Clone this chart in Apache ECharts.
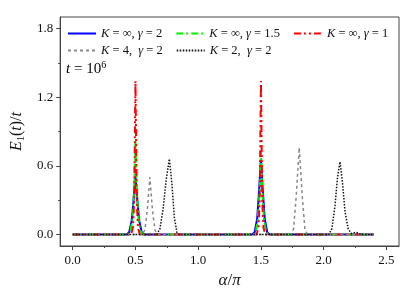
<!DOCTYPE html>
<html><head><meta charset="utf-8">
<script src="https://cdn.jsdelivr.net/npm/echarts@6/dist/echarts.min.js"></script>
<style>html,body{margin:0;padding:0;background:#fff}#c{width:415px;height:294px}</style>
</head><body><div id="c"></div>
<script>
// ---- data ----
const seriesNames = ['Kinf_g2', 'Kinf_g15', 'Kinf_g1', 'K4_g2', 'K2_g2'];
const legendLabels = [
  '{i|K}{n| = ∞, }{i|γ}{n| = 2}',
  '{i|K}{n| = ∞, }{i|γ}{n| = 1.5}',
  '{i|K}{n| = ∞, }{i|γ}{n| = 1}',
  '{i|K}{n| = 4,  }{i|γ}{n| = 2}',
  '{i|K}{n| = 2,  }{i|γ}{n| = 2}'
];
const blueData = [[0,0],[0.43,0],[0.45,0.02],[0.47,0.12],[0.485,0.3],[0.5,0.51],[0.515,0.3],[0.53,0.12],[0.55,0.02],[0.57,0],
  [1.43,0],[1.45,0.02],[1.47,0.14],[1.485,0.38],[1.5,0.66],[1.515,0.38],[1.53,0.14],[1.55,0.02],[1.57,0],[2.4,0]];
const greenData = [[0,0],[0.44,0],[0.46,0.03],[0.475,0.13],[0.49,0.4],[0.5,0.82],[0.51,0.4],[0.525,0.13],[0.54,0.03],[0.56,0],
  [1.44,0],[1.46,0.03],[1.475,0.13],[1.49,0.38],[1.5,0.72],[1.51,0.38],[1.525,0.13],[1.54,0.03],[1.56,0],[2.4,0]];
const redData = [[0,0],[0.465,0],[0.48,0.06],[0.49,0.3],[0.5,1.34],[0.51,0.3],[0.52,0.06],[0.535,0],
  [1.465,0],[1.48,0.06],[1.49,0.3],[1.5,1.34],[1.51,0.3],[1.52,0.06],[1.535,0],[2.4,0]];
const grayData = [[0,0],[0.555,0],[0.575,0.04],[0.595,0.22],[0.615,0.5],[0.635,0.22],[0.655,0.04],[0.675,0],
  [1.74,0],[1.76,0.05],[1.78,0.32],[1.805,0.76],[1.83,0.32],[1.85,0.05],[1.87,0],[2.4,0]];
const blackData = [[0,0],[0.67,0],[0.695,0.05],[0.72,0.22],[0.745,0.48],[0.77,0.66],[0.79,0.45],[0.81,0.15],[0.83,0.02],[0.85,0],
  [2.04,0],[2.065,0.05],[2.09,0.25],[2.11,0.5],[2.13,0.635],[2.15,0.45],[2.17,0.2],[2.195,0.05],[2.22,0.01],[2.26,0.02],[2.3,0],[2.4,0]];
const xMajorTicks = [0, 0.5, 1.0, 1.5, 2.0, 2.5];
const xMinorTicks = [0.25, 0.75, 1.25, 1.75, 2.25];
const yMajorTicks = [0, 0.6, 1.2, 1.8];
const yMinorTicks = [0.3, 0.9, 1.5];

// ---- chart ----
const FONT = '"Liberation Serif", "Times New Roman", serif';
const AX = '#444';
const chart = echarts.init(document.getElementById('c'), null, {renderer: 'canvas'});
const rich = {
  i: {fontFamily: FONT, fontStyle: 'italic', fontSize: 12.5, color: '#111'},
  n: {fontFamily: FONT, fontSize: 12.5, color: '#111'}
};
const labelMap = {};
seriesNames.forEach((n, k) => labelMap[n] = legendLabels[k]);
const xMin = -0.1, xMax = 2.6, yMin = -0.1, yMax = 1.9;
function mkX(ticks, len, showLabel, showLine) {
  return {
    type: 'value', min: xMin, max: xMax, gridIndex: 0, position: 'bottom',
    axisLine: {show: showLine, onZero: false, lineStyle: {color: AX, width: 1}},
    axisTick: {show: true, length: len, customValues: ticks, lineStyle: {color: AX}},
    axisLabel: {show: showLabel, customValues: ticks, formatter: v => v.toFixed(1),
      fontFamily: FONT, fontSize: 13, color: '#111', margin: 8},
    splitLine: {show: false}
  };
}
function mkY(ticks, len, showLabel, showLine) {
  return {
    type: 'value', min: yMin, max: yMax, gridIndex: 0, position: 'left',
    axisLine: {show: showLine, onZero: false, lineStyle: {color: AX, width: 1}},
    axisTick: {show: true, length: len, customValues: ticks, lineStyle: {color: AX}},
    axisLabel: {show: showLabel, customValues: ticks, formatter: v => v.toFixed(1),
      fontFamily: FONT, fontSize: 13, color: '#111', margin: 7},
    splitLine: {show: false}
  };
}
const xMain = mkX(xMajorTicks, 4, true, true);
xMain.name = '{i|α}{n|/}{i|π}';
xMain.nameLocation = 'middle';
xMain.nameGap = 22;
xMain.nameTextStyle = {rich: {
  i: {fontFamily: FONT, fontStyle: 'italic', fontSize: 17, color: '#111'},
  n: {fontFamily: FONT, fontSize: 17, color: '#111'}}};
const yMain = mkY(yMajorTicks, 4, true, true);
yMain.name = '{i|E}{s|1}{n|(}{i|t}{n|)/}{i|t}';
yMain.nameLocation = 'middle';
yMain.nameGap = 22;
yMain.nameRotate = 90;
yMain.nameTextStyle = {rich: {
  i: {fontFamily: FONT, fontStyle: 'italic', fontSize: 16, color: '#111', lineHeight: 20},
  n: {fontFamily: FONT, fontSize: 16, color: '#111', lineHeight: 20},
  s: {fontFamily: FONT, fontSize: 10, color: '#111', lineHeight: 20, padding: [8, 0, 0, 0]}}};

const mk = (name, data, color, type, width) => ({
  name, type: 'line', data, showSymbol: false, symbol: 'none', smooth: false,
  xAxisIndex: 0, yAxisIndex: 0,
  lineStyle: {color, type, width}, itemStyle: {color},
  animation: false
});
const legendCommon = {
  orient: 'horizontal', width: 345,
  itemWidth: 28, itemHeight: 10, itemGap: 13,
  formatter: n => labelMap[n], textStyle: {rich},
  itemStyle: {opacity: 0}
};

chart.setOption({
  animation: false,
  backgroundColor: '#fff',
  grid: {left: 58, top: 17, right: 16, bottom: 48, show: true, borderColor: AX, borderWidth: 1, backgroundColor: 'transparent'},
  xAxis: [xMain, mkX(xMinorTicks, 2, false, false)],
  yAxis: [yMain, mkY(yMinorTicks, 2, false, false)],
  legend: [
    Object.assign({data: seriesNames.slice(0, 3), left: 62, top: 22}, legendCommon),
    Object.assign({data: seriesNames.slice(3), left: 62, top: 39}, legendCommon)
  ],
  graphic: [{
    type: 'text', left: 66, top: 60,
    style: {text: '{i|t}{n| = 10}{p|6}', rich: {
      i: {fontFamily: FONT, fontStyle: 'italic', fontSize: 15, color: '#111', lineHeight: 18},
      n: {fontFamily: FONT, fontSize: 15, color: '#111', lineHeight: 18},
      p: {fontFamily: FONT, fontSize: 10, color: '#111', lineHeight: 18, padding: [0, 0, 8, 0]}}}
  }],
  series: [
    mk(seriesNames[0], blueData, '#0000ff', 'solid', 2),
    mk(seriesNames[1], greenData, '#00f000', [7, 3, 2, 3], 2),
    mk(seriesNames[2], redData, '#ff0000', [7, 3, 2, 3, 2, 3], 2),
    mk(seriesNames[3], grayData, '#888888', [3, 3], 1.5),
    mk(seriesNames[4], blackData, '#111111', [1.5, 1.5], 1.5)
  ]
});
</script></body></html>
